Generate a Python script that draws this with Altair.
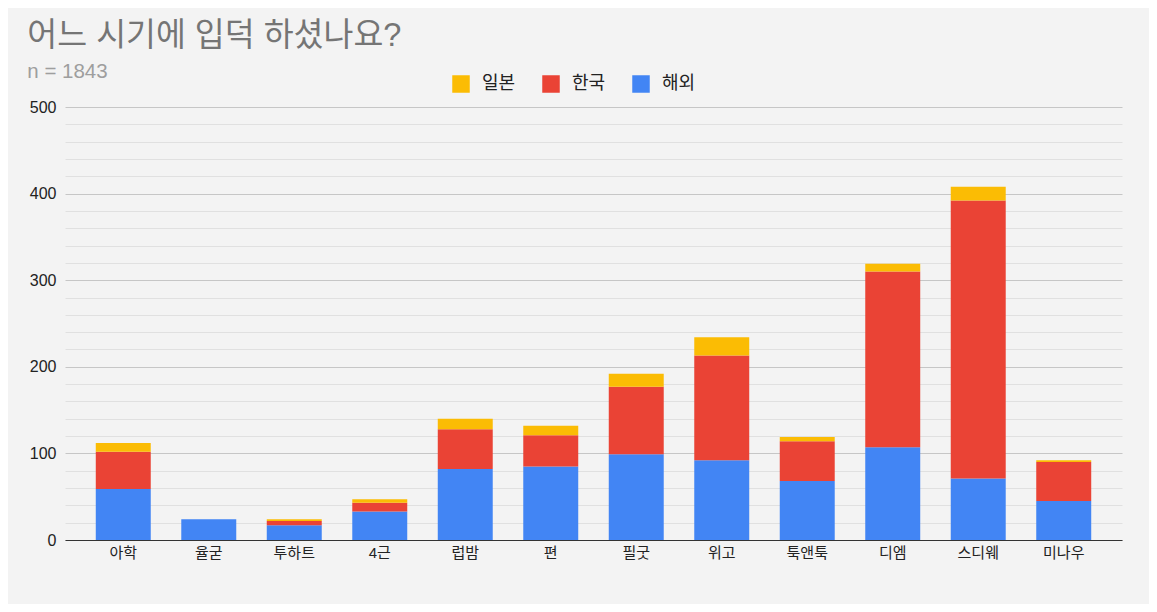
import altair as alt
import pandas as pd

categories = ["아학", "율굳", "투하트", "4근", "럽밤", "편", "필굿", "위고", "툭앤툭", "디엠", "스디웨", "미나우"]
overseas = [59, 24, 17, 33, 82, 85, 99, 92, 68, 107, 71, 45]
korea = [43, 0, 5, 10, 46, 36, 78, 121, 46, 203, 321, 45]
japan = [10, 0, 2, 4, 12, 11, 15, 21, 5, 9, 16, 2]

series_names = ["일본", "한국", "해외"]
series_colors = ["#fbbc04", "#ea4335", "#4285f4"]

rows = []
for i, c in enumerate(categories):
    rows.append({"cat": c, "series": "해외", "value": overseas[i], "ord": 0})
    rows.append({"cat": c, "series": "한국", "value": korea[i], "ord": 1})
    rows.append({"cat": c, "series": "일본", "value": japan[i], "ord": 2})
df = pd.DataFrame(rows)

FONT = "Liberation Sans, Noto Sans CJK KR, sans-serif"

chart = alt.Chart(df).mark_bar().encode(
    x=alt.X("cat:N", sort=categories,
            scale=alt.Scale(paddingInner=0.357, paddingOuter=0.36),
            axis=alt.Axis(title=None, labelAngle=0, ticks=False, labelFontSize=15,
                          labelColor="#222222", labelPadding=5, domain=True,
                          domainColor="#333333", domainWidth=1, labelFont=FONT)),
    y=alt.Y("value:Q", stack="zero",
            scale=alt.Scale(domain=[0, 500], nice=False),
            axis=alt.Axis(title=None, values=list(range(0, 501, 20)), ticks=False,
                          domain=False, labelFontSize=16, labelColor="#222222",
                          labelPadding=9, labelFont=FONT,
                          labelExpr="datum.value % 100 === 0 ? datum.label : ''",
                          gridColor={"condition": {"test": "datum.value % 100 === 0", "value": "#c6c6c6"},
                                     "value": "#e0e0e0"},
                          gridWidth=1)),
    color=alt.Color("series:N",
                    scale=alt.Scale(domain=series_names, range=series_colors),
                    legend=alt.Legend(title=None, orient="none", direction="horizontal",
                                      legendX=387, legendY=-32, padding=0,
                                      symbolType="square", symbolSize=306, symbolStrokeWidth=0,
                                      labelFontSize=18, labelColor="#222222", labelFont=FONT,
                                      labelOffset=12, columnPadding=26)),
    order=alt.Order("ord:Q", sort="ascending"),
).properties(
    width=1057,
    height=433,
    autosize=alt.AutoSizeParams(type="none"),
    padding={"left": 57, "top": 99, "right": 27, "bottom": 64},
    title=alt.TitleParams(
        text="어느 시기에 입덕 하셨나요?",
        subtitle="n = 1843",
        anchor="start",
        frame="bounds",
        font=FONT,
        fontSize=32.5,
        fontWeight="normal",
        color="#757575",
        subtitleFont=FONT,
        subtitleFontSize=20.5,
        subtitleColor="#9e9e9e",
        subtitlePadding=9,
        offset=-7,
        dx=-2,
    ),
).configure(
    background="#f3f3f3",
).configure_view(
    stroke=None,
)

chart.save("out.html", embed_options={"renderer": "svg", "actions": False})
